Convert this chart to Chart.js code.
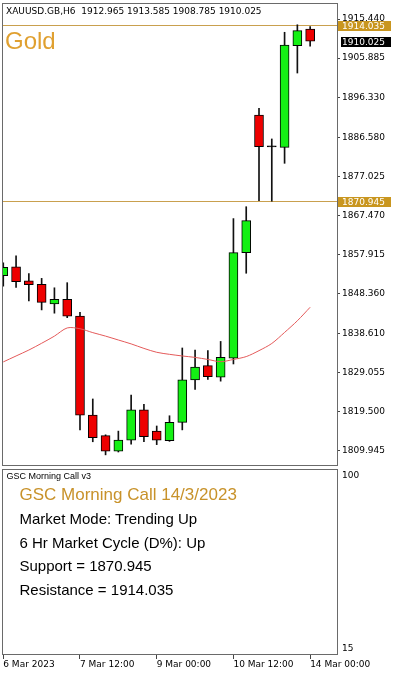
<!DOCTYPE html>
<html><head><meta charset="utf-8">
<script src="https://cdn.jsdelivr.net/npm/chart.js@4.4.0/dist/chart.umd.min.js"></script>
<style>
html,body{margin:0;padding:0;background:#fff;width:393px;height:673px;overflow:hidden;}
#wrap{position:relative;width:393px;height:673px;}
canvas{position:absolute;left:0;}
.t{position:absolute;white-space:nowrap;}
.ls{font-family:'Liberation Sans',Arial,sans-serif;}
</style></head><body>
<div id="wrap">
<canvas id="main" width="393" height="467" style="top:0"></canvas>
<canvas id="sub" width="393" height="206" style="top:467px"></canvas>
<div class="t" id="hdr" style="left:6px;top:6px;font-size:9px;line-height:11px;font-family:'DejaVu Sans',sans-serif;color:#000"></div>
<div class="t ls" style="left:5px;top:29px;font-size:24px;line-height:24px;color:#e0a030">Gold</div>
<div class="t ls" style="left:6.5px;top:472.4px;font-size:9px;line-height:9px;color:#000">GSC Morning Call v3</div>
<div class="t ls" style="left:19.5px;top:485.6px;font-size:17px;line-height:17px;color:#c8922a">GSC Morning Call 14/3/2023</div>
<div class="t ls" style="left:19.5px;top:511.3px;font-size:15px;line-height:15px;color:#000">Market Mode: Trending Up</div>
<div class="t ls" style="left:19.5px;top:534.8px;font-size:15px;line-height:15px;color:#000">6 Hr Market Cycle (D%): Up</div>
<div class="t ls" id="supT" style="left:19.5px;top:558.3px;font-size:15px;line-height:15px;color:#000"></div>
<div class="t ls" id="resT" style="left:19.5px;top:581.8px;font-size:15px;line-height:15px;color:#000"></div>
</div>
<script>
// ---- data ----
const categories = ['6 Mar 00:00','6 Mar 06:00','6 Mar 12:00','6 Mar 18:00','7 Mar 00:00','7 Mar 06:00','7 Mar 12:00','7 Mar 18:00','8 Mar 00:00','8 Mar 06:00','8 Mar 12:00','8 Mar 18:00','9 Mar 00:00','9 Mar 06:00','9 Mar 12:00','9 Mar 18:00','10 Mar 00:00','10 Mar 06:00','10 Mar 12:00','10 Mar 18:00','13 Mar 00:00','13 Mar 06:00','13 Mar 12:00','13 Mar 18:00','14 Mar 00:00'];
const opens  = [1852.75,1854.95,1851.5,1850.65,1845.85,1847.0,1842.9,1818.7,1813.7,1809.9,1812.6,1820.0,1814.8,1812.45,1816.95,1827.3,1830.8,1827.95,1832.6,1858.4,1892.0,1884.45,1884.1,1908.9,1912.965];
const highs  = [1855.9,1857.6,1853.3,1852.1,1849.8,1851.05,1843.8,1822.65,1813.9,1814.8,1823.6,1821.35,1816.05,1818.55,1835.1,1834.6,1834.45,1836.7,1866.7,1869.6,1893.6,1886.15,1912.2,1914.035,1913.585];
const lows   = [1850.2,1849.9,1846.6,1844.4,1843.6,1842.5,1815.1,1812.2,1809.0,1809.7,1811.6,1812.2,1811.5,1812.3,1815.1,1825.0,1827.45,1827.0,1831.2,1853.35,1871.1,1870.945,1880.2,1902.25,1908.785];
const closes = [1854.8,1851.3,1850.55,1846.25,1847.0,1842.9,1818.7,1813.2,1809.9,1812.6,1820.0,1813.45,1812.6,1816.95,1827.3,1830.45,1828.1,1832.8,1858.4,1866.2,1884.25,1884.2,1909.1,1912.6,1910.025];
const maValues = [1831.7,1833.15,1834.6,1836.25,1838.0,1840.0,1839.8,1838.85,1838.0,1837.05,1836.1,1835.0,1834.05,1833.55,1833.15,1832.8,1832.3,1831.75,1832.3,1833.0,1834.45,1836.2,1838.9,1841.75,1845.05];
const priceTicks = [1915.440,1905.885,1896.330,1886.580,1877.025,1867.470,1857.915,1848.360,1838.610,1829.055,1819.500,1809.945];
const xTickIdx = [0,6,12,18,24];
const xTickLabels = ['6 Mar 2023','7 Mar 12:00','9 Mar 00:00','10 Mar 12:00','14 Mar 00:00'];
const support = 1870.945;
const resistance = 1914.035;
const symbol = 'XAUUSD.GB,H6';
const subTicks = [100, 15];

// ---- derived ----
const last = opens.length - 1;
document.getElementById('hdr').textContent = symbol + '\u00a0\u00a0' + [opens[last],highs[last],lows[last],closes[last]].map(v=>v.toFixed(3)).join(' ');
document.getElementById('supT').textContent = 'Support = ' + support.toFixed(3);
document.getElementById('resT').textContent = 'Resistance = ' + resistance.toFixed(3);

const bodyData = opens.map((o,i)=>({x:i, y:[o, closes[i]]}));
const wickData = lows.map((l,i)=>({x:i, y:[l, highs[i]]}));
const maData = maValues.map((v,i)=>({x:i, y:v}));
const bodyColors = opens.map((o,i)=> Math.abs(closes[i]-o) < 0.3 ? '#000' : (closes[i] > o ? '#14f014' : '#ee0000'));

const X_MIN = -0.1, X_MAX = 26.1;
const Y_MIN = 1806.28, Y_MAX = 1919.35;
const axisFont = {family:'DejaVu Sans', size:9};
const noPad = s => { s.paddingTop = 0; s.paddingBottom = 0; s.paddingLeft = 0; s.paddingRight = 0; };

const framePlugin = {
  id:'frame',
  afterDraw(c){
    const {ctx, chartArea:a} = c;
    ctx.save();
    ctx.strokeStyle = '#6a6a6a'; ctx.lineWidth = 1;
    ctx.strokeRect(Math.round(a.left)+0.5, Math.round(a.top)+0.5, Math.round(a.right-a.left), Math.round(a.bottom-a.top)-1);
    ctx.restore();
  }
};

const levelPlugin = {
  id:'levels',
  beforeDatasetsDraw(c){
    const {ctx, chartArea:a, scales:{y}} = c;
    ctx.save();
    ctx.strokeStyle = '#c9a04e'; ctx.lineWidth = 1;
    [support, resistance].forEach(v=>{
      const py = Math.round(y.getPixelForValue(v)) + 0.5;
      ctx.beginPath(); ctx.moveTo(a.left, py); ctx.lineTo(a.right, py); ctx.stroke();
    });
    ctx.restore();
  },
  afterDraw(c){
    const {ctx, chartArea:a, scales:{y}} = c;
    ctx.save();
    ctx.font = '9px "DejaVu Sans"';
    ctx.textBaseline = 'middle';
    const box = (v, bg, x0) => {
      const py = Math.round(y.getPixelForValue(v));
      ctx.fillStyle = bg;
      ctx.fillRect(x0, py-4, 391-x0, 10);
      ctx.fillStyle = '#fff';
      ctx.fillText(v.toFixed(3), 342, py+1.5);
    };
    box(resistance, '#c9961f', a.right+1);
    box(closes[last], '#000', a.right+4);
    box(support, '#c9961f', a.right+1);
    ctx.restore();
  }
};

new Chart(document.getElementById('main'), {
  type:'bar',
  data:{ datasets:[
    {type:'line', data:maData, borderColor:'#e45a5a', borderWidth:1, pointRadius:0, tension:0.3, order:0},
    {data:bodyData, backgroundColor:bodyColors, borderColor:'#000', borderWidth:1, borderSkipped:false, barThickness:9, grouped:false, order:1},
    {data:wickData, backgroundColor:'#111', borderWidth:0, barThickness:1, grouped:false, order:2}
  ]},
  options:{
    responsive:false, animation:false, events:[],
    layout:{padding:{left:2, top:3, right:0, bottom:1}},
    plugins:{legend:{display:false}, tooltip:{enabled:false}},
    scales:{
      x:{type:'linear', min:X_MIN, max:X_MAX, offset:false, display:false, grid:{offset:false}},
      y:{position:'right', min:Y_MIN, max:Y_MAX,
         afterFit(s){ s.width = 56; noPad(s); },
         afterBuildTicks(s){ s.ticks = priceTicks.map(v=>({value:v})); },
         ticks:{font:axisFont, color:'#000', padding:2, autoSkip:false, callback:v=>Number(v).toFixed(3)},
         grid:{drawOnChartArea:false, drawTicks:true, tickLength:3, color:'#444'},
         border:{display:false}}
    }
  },
  plugins:[levelPlugin, framePlugin]
});

new Chart(document.getElementById('sub'), {
  type:'line',
  data:{ datasets:[{data:[], borderWidth:0, pointRadius:0}]},
  options:{
    responsive:false, animation:false, events:[],
    layout:{padding:{left:2, top:2, right:0, bottom:0}},
    plugins:{legend:{display:false}, tooltip:{enabled:false}},
    scales:{
      x:{type:'linear', min:X_MIN, max:X_MAX, offset:false,
         afterFit(s){ s.height = 18; noPad(s); },
         afterBuildTicks(s){ s.ticks = xTickIdx.map(v=>({value:v})); },
         ticks:{font:axisFont, color:'#000', padding:0, align:'start', maxRotation:0, autoSkip:false,
                callback:v=>{ const k = xTickIdx.indexOf(Number(v)); return k>=0 ? xTickLabels[k] : ''; }},
         grid:{drawOnChartArea:false, drawTicks:true, tickLength:4, color:'#444', offset:false},
         border:{display:false}},
      y:{position:'right', min:12.06, max:103.19,
         afterFit(s){ s.width = 56; noPad(s); },
         afterBuildTicks(s){ s.ticks = subTicks.map(v=>({value:v})); },
         ticks:{font:axisFont, color:'#000', padding:5, autoSkip:false, callback:v=>String(v)},
         grid:{drawOnChartArea:false, drawTicks:false},
         border:{display:false}}
    }
  },
  plugins:[framePlugin]
});
</script>
</body></html>
